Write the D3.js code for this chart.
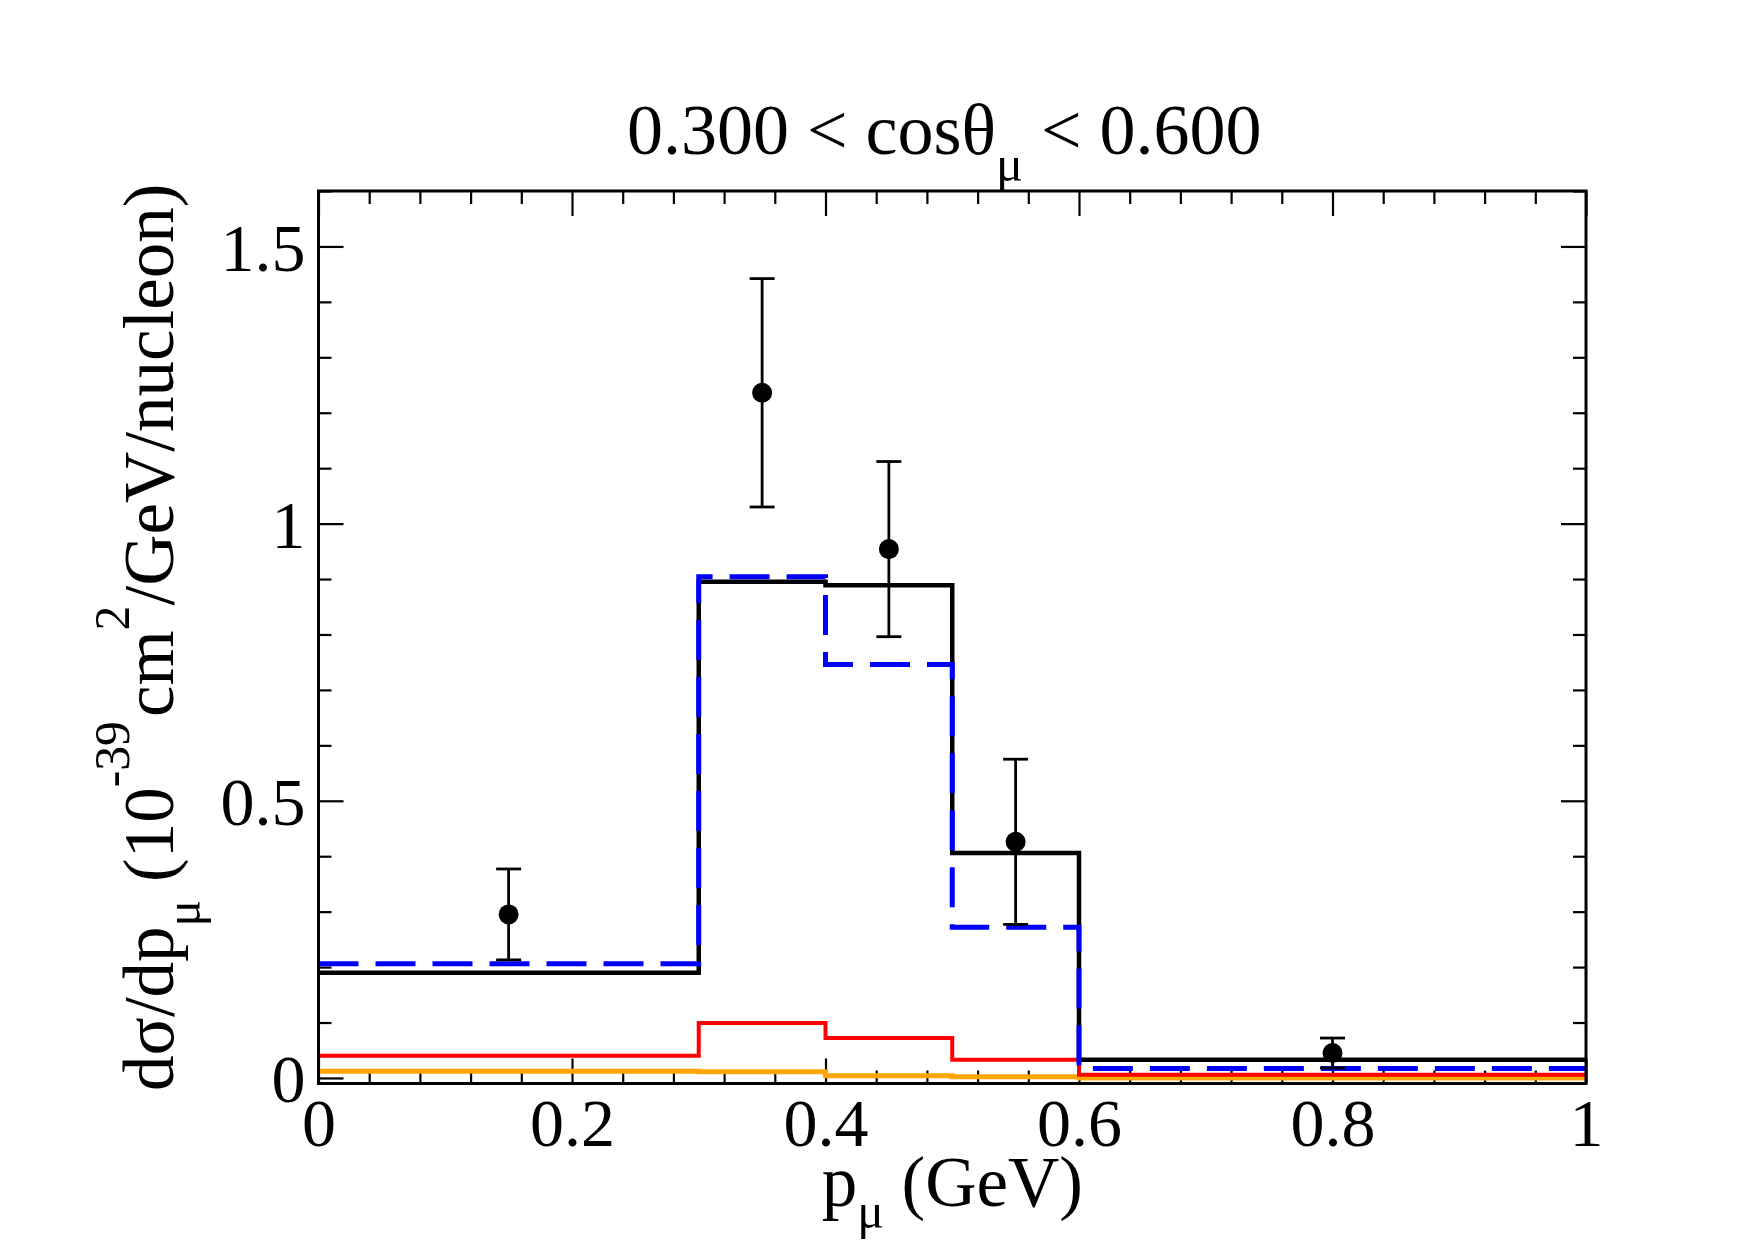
<!DOCTYPE html>
<html>
<head>
<meta charset="utf-8">
<script src="https://cdn.jsdelivr.net/npm/d3@7"></script>
<style>
  html, body { margin: 0; padding: 0; background: #fff; }
  svg { display: block; }
  text { font-family: 'Liberation Serif', 'Times New Roman', serif; fill: #000; }
</style>
</head>
<body>
<svg id="chart" width="1755" height="1240"></svg>
<script>
// bin edges in p_mu (GeV)
const binEdges = [0, 0.3, 0.4, 0.5, 0.6, 1.0];
// model curves, one value per bin
const totalModel = [0.190, 0.895, 0.889, 0.406, 0.033];
const dashedModel = [0.206, 0.904, 0.746, 0.272, 0.017];
const redModel = [0.040, 0.099, 0.072, 0.033, 0.006];
const orangeModel = [0.012, 0.011, 0.004, 0.002, 0.000];
// measured points
const dataP = [0.15, 0.35, 0.45, 0.55, 0.8];
const dataXs = [0.295, 1.236, 0.954, 0.426, 0.045];
const dataErr = [0.082, 0.206, 0.158, 0.149, 0.027];
// axes
const xTicks = [0, 0.2, 0.4, 0.6, 0.8, 1];
const xTickLabels = ['0', '0.2', '0.4', '0.6', '0.8', '1'];
const yTicks = [0, 0.5, 1, 1.5];
const yTickLabels = ['0', '0.5', '1', '1.5'];

const config = {
  'left': 318.5,
  'right': 1586,
  'top': 191,
  'bottom': 1083.5,
  'font-size': 68,
  'label-size': 71,
  'title-size': 72,
  'sub': 0.7,
  'major': 25,
  'minor': 13
};

const svg = d3.select('#chart');

const x = d3.scaleLinear().domain([0, 1]).range([config.left, config.right]);
const y = d3.scaleLinear().domain([-0.01, 1.6]).range([config.bottom, config.top]);

const xMinor = d3.range(0, 1.0001, 0.04).filter(v => !xTicks.some(t => Math.abs(t - v) < 1e-6));
const yMinor = d3.range(0, 1.6001, 0.1).filter(v => !yTicks.some(t => Math.abs(t - v) < 1e-6));

// ticks on all four sides, pointing inward
function drawAxis(axisFn, scale, values, size, transform, fmt) {
  const g = svg.append('g')
    .attr('transform', transform)
    .call(axisFn(scale).tickValues(values).tickSize(-size).tickFormat(fmt || ''));
  g.select('.domain').remove();
  g.selectAll('.tick line').attr('stroke', '#000').attr('stroke-width', 2.2);
  return g;
}

const xb = drawAxis(d3.axisBottom, x, xTicks, config.major, `translate(0,${config.bottom})`, (d, i) => xTickLabels[i]);
drawAxis(d3.axisBottom, x, xMinor, config.minor, `translate(0,${config.bottom})`);
drawAxis(d3.axisTop, x, xTicks, config.major, `translate(0,${config.top})`);
drawAxis(d3.axisTop, x, xMinor, config.minor, `translate(0,${config.top})`);
const yl = drawAxis(d3.axisLeft, y, yTicks, config.major, `translate(${config.left},0)`, (d, i) => yTickLabels[i]);
drawAxis(d3.axisLeft, y, yMinor, config.minor, `translate(${config.left},0)`);
drawAxis(d3.axisRight, y, yTicks, config.major, `translate(${config.right},0)`);
drawAxis(d3.axisRight, y, yMinor, config.minor, `translate(${config.right},0)`);

xb.selectAll('text')
  .attr('y', 62)
  .attr('dy', null)
  .style('font-size', `${config['font-size']}px`)
  .style('font-family', "'Liberation Serif', 'Times New Roman', serif")
  .attr('fill', '#000');

yl.selectAll('text')
  .attr('x', -13)
  .attr('dy', '0.35em')
  .style('font-size', `${config['font-size']}px`)
  .style('font-family', "'Liberation Serif', 'Times New Roman', serif")
  .attr('fill', '#000');

// histograms
const stepLine = d3.line()
  .x(d => x(d[0]))
  .y(d => y(d[1]))
  .curve(d3.curveStepAfter);

function steps(values) {
  const pts = values.map((v, i) => [binEdges[i], v]);
  pts.push([binEdges[binEdges.length - 1], values[values.length - 1]]);
  return pts;
}

const curves = [
  { values: orangeModel, color: '#ffa500', width: 5, dash: null },
  { values: redModel, color: '#ff0000', width: 4, dash: null },
  { values: totalModel, color: '#000000', width: 4.5, dash: null },
  { values: dashedModel, color: '#0000ff', width: 5, dash: '40,17' }
];

svg.append('g')
  .attr('class', 'curves')
  .selectAll('path')
  .data(curves)
  .enter()
  .append('path')
  .attr('d', d => stepLine(steps(d.values)))
  .attr('fill', 'none')
  .attr('stroke', d => d.color)
  .attr('stroke-width', d => d.width)
  .attr('stroke-dasharray', d => d.dash);

// data points with error bars
const points = dataP.map((p, i) => ({ p: p, v: dataXs[i], e: dataErr[i] }));
const pg = svg.append('g')
  .attr('class', 'points')
  .selectAll('g')
  .data(points)
  .enter()
  .append('g');

pg.append('line')
  .attr('x1', d => x(d.p)).attr('x2', d => x(d.p))
  .attr('y1', d => y(d.v - d.e)).attr('y2', d => y(d.v + d.e))
  .attr('stroke', '#000').attr('stroke-width', 2.8);

[-1, 1].forEach(s => {
  pg.append('line')
    .attr('x1', d => x(d.p) - 12.5).attr('x2', d => x(d.p) + 12.5)
    .attr('y1', d => y(d.v + s * d.e)).attr('y2', d => y(d.v + s * d.e))
    .attr('stroke', '#000').attr('stroke-width', 2.8);
});

pg.append('circle')
  .attr('cx', d => x(d.p))
  .attr('cy', d => y(d.v))
  .attr('r', 10)
  .attr('fill', '#000');

// frame
svg.append('rect')
  .attr('x', config.left)
  .attr('y', config.top)
  .attr('width', config.right - config.left)
  .attr('height', config.bottom - config.top)
  .attr('fill', 'none')
  .attr('stroke', '#000')
  .attr('stroke-width', 3);

// title
const ts = config['title-size'];
const title = svg.append('text')
  .attr('x', (config.left + config.right) / 2 - 8)
  .attr('y', 154)
  .attr('text-anchor', 'middle')
  .style('font-size', `${ts}px`);
title.append('tspan').text('0.300 < cosθ');
title.append('tspan').attr('dy', 27).style('font-size', `${config.sub * ts}px`).text('μ');
title.append('tspan').attr('dy', -27).text(' < 0.600');

// x label
const ls = config['label-size'];
const xl = svg.append('text')
  .attr('x', (config.left + config.right) / 2)
  .attr('y', 1206)
  .attr('text-anchor', 'middle')
  .style('font-size', `${ls}px`);
xl.append('tspan').text('p');
xl.append('tspan').attr('dy', 22).style('font-size', `${config.sub * ls}px`).text('μ');
xl.append('tspan').attr('dy', -22).text(' (GeV)');

// y label
const ylab = svg.append('text')
  .attr('transform', `translate(173,${(config.top + config.bottom) / 2}) rotate(-90)`)
  .attr('text-anchor', 'middle')
  .style('font-size', `${ls}px`);
ylab.append('tspan').text('dσ/dp');
ylab.append('tspan').attr('dy', 27).style('font-size', `${config.sub * ls}px`).text('μ');
ylab.append('tspan').attr('dy', -27).text(' (10');
ylab.append('tspan').attr('dy', -44).style('font-size', `${config.sub * ls}px`).text('-39');
ylab.append('tspan').attr('dy', 44).attr('dx', 4).text('cm');
ylab.append('tspan').attr('dy', -44).style('font-size', `${config.sub * ls}px`).text('2');
ylab.append('tspan').attr('dy', 44).text('/GeV/nucleon)');
</script>
</body>
</html>
